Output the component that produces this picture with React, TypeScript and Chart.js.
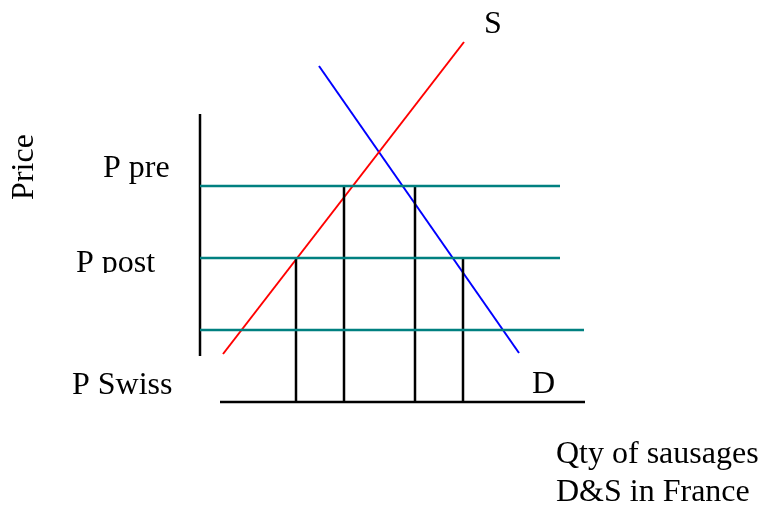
import React, { useEffect, useRef } from "react";
import { Chart, registerables } from "chart.js";

Chart.register(...registerables);

// Quantity measured from the price axis, price measured from the quantity axis (diagram units)
const priceLabels = ["P pre", "P post", "P Swiss"];
const priceLevels = [216, 144, 72];
const priceLineEnd = [360, 360, 384];

const supplyQty = [23, 264];
const supplyPrice = [48, 360];

const demandQty = [119, 319];
const demandPrice = [336, 49];

const dropQty = [96, 144, 215, 263];
const dropPrice = [144, 216, 216, 144];

const priceAxisRange = [46, 288];
const qtyAxisRange = [20, 385];

const FONT = '32px "Liberation Serif", "Times New Roman", serif';

const textPlugin = {
  id: "diagramText",
  afterDraw(chart: any) {
    const ctx = chart.ctx as CanvasRenderingContext2D;
    ctx.save();
    ctx.fillStyle = "#000";
    ctx.font = FONT;
    ctx.textBaseline = "alphabetic";
    ctx.textAlign = "left";
    ctx.fillText("S", 484, 33);
    ctx.fillText(priceLabels[0], 103, 177);
    ctx.save();
    ctx.beginPath();
    ctx.rect(0, 240, 200, 33);
    ctx.clip();
    ctx.fillText(priceLabels[1], 76, 272);
    ctx.restore();
    ctx.fillText(priceLabels[2], 72, 394);
    ctx.fillText("D", 532, 393);
    ctx.fillText("Qty of sausages", 556, 463);
    ctx.fillText("D&S in France", 556, 501);
    ctx.save();
    ctx.translate(33, 167);
    ctx.rotate(-Math.PI / 2);
    ctx.textAlign = "center";
    ctx.fillText("Price", 0, 0);
    ctx.restore();
    ctx.restore();
  },
};

function seg(x1: number, y1: number, x2: number, y2: number, color: string, w = 2) {
  return {
    type: "line" as const,
    data: [
      { x: x1, y: y1 },
      { x: x2, y: y2 },
    ],
    borderColor: color,
    borderWidth: w,
    pointRadius: 0,
    fill: false,
    tension: 0,
    borderCapStyle: "butt" as const,
  };
}

export default function App() {
  const ref = useRef<HTMLCanvasElement>(null);
  useEffect(() => {
    if (!ref.current) return;
    const datasets: any[] = [];
    priceLevels.forEach((p, i) => datasets.push(seg(0, p, priceLineEnd[i], p, "#008080", 2.5)));
    dropQty.forEach((q, i) => datasets.push(seg(q, 0, q, dropPrice[i], "#000000", 2.5)));
    datasets.push(seg(0, priceAxisRange[0], 0, priceAxisRange[1], "#000000", 2.5));
    datasets.push(seg(qtyAxisRange[0], 0, qtyAxisRange[1], 0, "#000000", 2.5));
    datasets.push(seg(supplyQty[0], supplyPrice[0], supplyQty[1], supplyPrice[1], "#ff0000", 2));
    datasets.push(seg(demandQty[0], demandPrice[0], demandQty[1], demandPrice[1], "#0000ff", 2));
    const chart = new Chart(ref.current, {
      type: "line",
      data: { datasets },
      options: {
        animation: false,
        responsive: false,
        layout: { padding: 0 },
        plugins: { legend: { display: false }, tooltip: { enabled: false } },
        events: [],
        scales: {
          x: { type: "linear", min: -200, max: 559, display: false },
          y: { type: "linear", min: -106, max: 402, display: false },
        },
      },
      plugins: [textPlugin],
    });
    return () => chart.destroy();
  }, []);
  return (
    <div style={{ position: "fixed", left: 0, top: 0, width: 759, height: 508, background: "#fff" }}>
      <canvas ref={ref} width={759} height={508} style={{ width: 759, height: 508 }} />
    </div>
  );
}
